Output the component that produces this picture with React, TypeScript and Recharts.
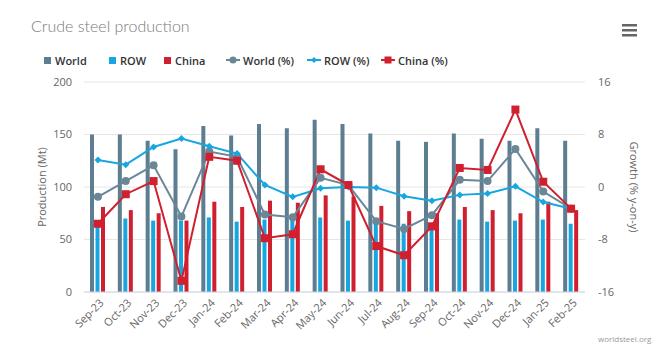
import React from 'react';
import { ComposedChart, Bar, Line, XAxis, YAxis, CartesianGrid } from 'recharts';

// months shown on the x axis
const months = [
  'Sep-23', 'Oct-23', 'Nov-23', 'Dec-23', 'Jan-24', 'Feb-24', 'Mar-24', 'Apr-24', 'May-24',
  'Jun-24', 'Jul-24', 'Aug-24', 'Sep-24', 'Oct-24', 'Nov-24', 'Dec-24', 'Jan-25', 'Feb-25'
];

// production, Mt
const worldMt = [150, 150, 144, 136, 158, 149, 160, 156, 164, 160, 151, 144, 143, 151, 146, 144, 156, 144];
const rowMt = [65, 70, 68, 68, 71, 67, 69, 70, 71, 68, 65, 65, 66, 69, 67, 68, 69, 65];
const chinaMt = [81, 78, 75, 68, 86, 81, 87, 85, 92, 91, 82, 77, 75, 81, 78, 75, 86, 78];

// growth, % y-on-y
const worldPct = [-1.5, 0.9, 3.3, -4.5, 5.4, 4.6, -4.2, -4.6, 1.4, 0.3, -5.2, -6.4, -4.3, 1.1, 0.9, 5.8, -0.7, -3.3];
const rowPct = [4.1, 3.4, 6.1, 7.4, 6.2, 5.1, 0.3, -1.5, -0.2, 0, -0.1, -1.4, -2.1, -1.2, -1.0, 0.1, -2.3, -3.3];
const chinaPct = [-5.6, -1.1, 0.9, -14.3, 4.6, 4.0, -7.8, -7.2, 2.7, 0.3, -9.0, -10.4, -6.0, 2.9, 2.6, 11.8, 0.8, -3.3];

const leftTicks = [0, 50, 100, 150, 200];
const rightTicks = [-16, -8, 0, 8, 16];

const WORLD_BAR = '#5d7d90';
const WORLD_LINE = '#6a8697';
const ROW_COLOR = '#17a6e0';
const CHINA_COLOR = '#d01f2e';

const data = months.map((m, i) => ({
  month: m,
  world: worldMt[i],
  row: rowMt[i],
  china: chinaMt[i],
  worldPct: worldPct[i],
  rowPct: rowPct[i],
  chinaPct: chinaPct[i]
}));

const FONT = '"Open Sans", "DejaVu Sans", sans-serif';

const CircleDot = (props: any) => {
  const { cx, cy } = props;
  if (cx == null || cy == null) return null;
  return <circle key={props.key} cx={cx} cy={cy} r={4} fill={WORLD_LINE} />;
};

const DiamondDot = (props: any) => {
  const { cx, cy } = props;
  if (cx == null || cy == null) return null;
  const s = 3.5;
  return (
    <path
      key={props.key}
      d={`M${cx},${cy - s}L${cx + s},${cy}L${cx},${cy + s}L${cx - s},${cy}Z`}
      fill={ROW_COLOR}
    />
  );
};

const SquareDot = (props: any) => {
  const { cx, cy } = props;
  if (cx == null || cy == null) return null;
  return <rect key={props.key} x={cx - 4} y={cy - 4} width={8} height={8} fill={CHINA_COLOR} />;
};

const MonthTick = (props: any) => {
  const { x, y, payload } = props;
  const tx = x + 3;
  return (
    <text
      x={tx}
      y={y}
      dy={5}
      textAnchor="end"
      fontSize={11}
      fill="#666"
      fontFamily={FONT}
      transform={`rotate(-45, ${tx}, ${y})`}
    >
      {payload.value}
    </text>
  );
};

// legend entries (left offsets)
const legendItems = [
  { label: 'World', color: WORLD_BAR, kind: 'bar', left: 44 },
  { label: 'ROW', color: ROW_COLOR, kind: 'bar', left: 109 },
  { label: 'China', color: CHINA_COLOR, kind: 'bar', left: 164 },
  { label: 'World (%)', color: WORLD_LINE, kind: 'circle', left: 226 },
  { label: 'ROW (%)', color: ROW_COLOR, kind: 'diamond', left: 307 },
  { label: 'China (%)', color: CHINA_COLOR, kind: 'square', left: 381 }
];

const LegendIcon = ({ kind, color }: { kind: string; color: string }) => {
  if (kind === 'bar') {
    return (
      <svg width={7} height={7} style={{ display: 'block' }}>
        <rect width={7} height={7} fill={color} />
      </svg>
    );
  }
  return (
    <svg width={14} height={10} style={{ display: 'block' }}>
      <line x1={0} y1={5} x2={14} y2={5} stroke={color} strokeWidth={2} />
      {kind === 'circle' && <circle cx={7} cy={5} r={3.5} fill={color} />}
      {kind === 'diamond' && <path d="M7,2L10,5L7,8L4,5Z" fill={color} />}
      {kind === 'square' && <rect x={3.5} y={1.5} width={7} height={7} fill={color} />}
    </svg>
  );
};

export default function App() {
  return (
    <div
      style={{
        position: 'absolute',
        left: 0,
        top: 0,
        width: 662,
        height: 364,
        background: '#fff',
        fontFamily: FONT
      }}
    >
      <div
        style={{
          position: 'absolute',
          left: 31,
          top: 16,
          fontSize: 16,
          fontWeight: 300,
          color: '#7a7a7a',
          fontFamily: 'Lato, "Open Sans", sans-serif',
          whiteSpace: 'nowrap'
        }}
      >
        Crude steel production
      </div>

      <svg width={16} height={14} style={{ position: 'absolute', left: 622, top: 23 }}>
        <rect x={0} y={1} width={15} height={2.5} fill="#666" />
        <rect x={0} y={6} width={15} height={2.5} fill="#666" />
        <rect x={0} y={11} width={15} height={2.5} fill="#666" />
      </svg>

      {legendItems.map((item) => (
        <div
          key={item.label}
          style={{
            position: 'absolute',
            left: item.left,
            top: 52,
            height: 16,
            display: 'flex',
            alignItems: 'center',
            gap: item.kind === 'bar' ? 4 : 3,
            fontSize: 11,
            fontWeight: 600,
            color: '#333',
            whiteSpace: 'nowrap'
          }}
        >
          <LegendIcon kind={item.kind} color={item.color} />
          <span>{item.label}</span>
        </div>
      ))}

      <ComposedChart
        width={662}
        height={364}
        data={data}
        margin={{ top: 82, right: 0, bottom: 12, left: 0 }}
        barSize={4}
        barGap={1.5}
        style={{ position: 'absolute', left: 0, top: 0 }}
      >
        <CartesianGrid yAxisId="left" vertical={false} stroke="#e6e6e6" />
        <XAxis
          dataKey="month"
          height={60}
          interval={0}
          tickLine={false}
          axisLine={{ stroke: '#ccd6eb' }}
          tick={<MonthTick />}
        />
        <YAxis
          yAxisId="left"
          width={84}
          domain={[0, 200]}
          ticks={leftTicks}
          tickLine={false}
          axisLine={false}
          tickMargin={6}
          tick={{ fontSize: 11, fill: '#666', fontFamily: FONT }}
          label={{
            value: 'Production (Mt)',
            angle: -90,
            position: 'center',
            fontSize: 11,
            fill: '#666',
            fontFamily: FONT
          }}
        />
        <YAxis
          yAxisId="right"
          orientation="right"
          width={77}
          domain={[-16, 16]}
          ticks={rightTicks}
          tickLine={false}
          axisLine={false}
          tickMargin={7}
          tick={{ fontSize: 11, fill: '#666', fontFamily: FONT, textAnchor: 'start' }}
          label={{
            value: 'Growth (% y-on-y)',
            angle: 90,
            position: 'center',
            dx: 10,
            fontSize: 11,
            fill: '#666',
            fontFamily: FONT
          }}
        />
        <Bar yAxisId="left" dataKey="world" fill={WORLD_BAR} isAnimationActive={false} />
        <Bar yAxisId="left" dataKey="row" fill={ROW_COLOR} isAnimationActive={false} />
        <Bar yAxisId="left" dataKey="china" fill={CHINA_COLOR} isAnimationActive={false} />
        <Line
          yAxisId="right"
          dataKey="worldPct"
          stroke={WORLD_LINE}
          strokeWidth={2}
          dot={<CircleDot />}
          activeDot={false}
          isAnimationActive={false}
        />
        <Line
          yAxisId="right"
          dataKey="rowPct"
          stroke={ROW_COLOR}
          strokeWidth={2}
          dot={<DiamondDot />}
          activeDot={false}
          isAnimationActive={false}
        />
        <Line
          yAxisId="right"
          dataKey="chinaPct"
          stroke={CHINA_COLOR}
          strokeWidth={2}
          dot={<SquareDot />}
          activeDot={false}
          isAnimationActive={false}
        />
      </ComposedChart>

      <div
        style={{
          position: 'absolute',
          left: 598,
          top: 333,
          fontSize: 8,
          color: '#999',
          whiteSpace: 'nowrap'
        }}
      >
        worldsteel.org
      </div>
    </div>
  );
}
